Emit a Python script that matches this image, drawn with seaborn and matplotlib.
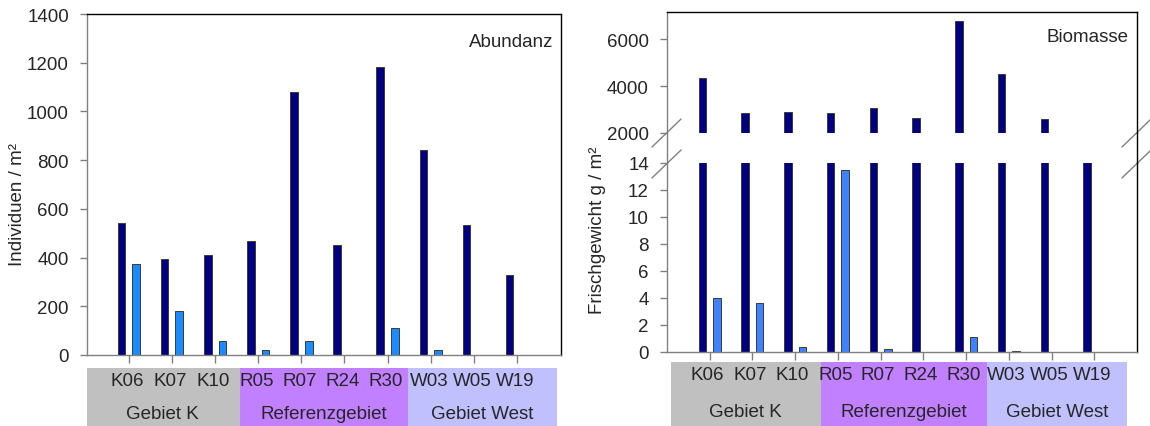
import matplotlib
matplotlib.use("Agg")
import matplotlib.pyplot as plt
from matplotlib.lines import Line2D
import seaborn as sns
import pandas as pd

# --- data -------------------------------------------------------------
stationen = ["K06", "K07", "K10", "R05", "R07", "R24", "R30", "W03", "W05", "W19"]
gebiete = ["Gebiet K", "Referenzgebiet", "Gebiet West"]

# Abundanz (Individuen / m²)
abundanz_gesamt = [542, 393, 411, 470, 1079, 452, 1182, 840, 535, 330]
abundanz_teil = [372, 181, 59, 19, 59, 0, 110, 19, 0, 0]

# Biomasse (Frischgewicht g / m²)
biomasse_gesamt = [4326, 2865, 2908, 2851, 3064, 2624, 6780, 4511, 2582, 1500]
biomasse_teil = [4.0, 3.6, 0.35, 13.45, 0.25, 0.0, 1.1, 0.1, 0.0, 0.0]

serien = ["gesamt", "teil"]

# --- style ------------------------------------------------------------
sns.set_style("white")
plt.rcParams["font.family"] = ["Liberation Sans", "DejaVu Sans"]

DUNKEL = "#000080"
HELL_A = "#1a8cff"
HELL_B = "#3f82ff"
GRAU = "#808080"
BOX_FARBEN = ["#c0c0c0", "#c080ff", "#c0c0ff"]
FS = 13.5


def long_frame(gesamt, teil):
    return pd.DataFrame({
        "Station": stationen * 2,
        "Serie": [serien[0]] * len(stationen) + [serien[1]] * len(stationen),
        "Wert": list(gesamt) + list(teil),
    })


def bars(ax, df, hell):
    sns.barplot(data=df, x="Station", y="Wert", hue="Serie", order=stationen,
                hue_order=serien, palette=[DUNKEL, hell], saturation=1,
                width=0.68, gap=0.48, edgecolor="#3a3a3a", linewidth=0.7,
                legend=False, ax=ax)
    ax.set_xlabel("")
    ax.set_ylabel("")


def frame(ax, top=True, bottom=True):
    for side in ["left", "bottom"]:
        ax.spines[side].set_color(GRAU)
    for side in ["top", "right"]:
        ax.spines[side].set_color("black")
    ax.spines["top"].set_visible(top)
    ax.spines["bottom"].set_visible(bottom)
    for s in ax.spines.values():
        s.set_linewidth(1.0)
    ax.tick_params(axis="y", direction="out", length=5, width=1, color=GRAU,
                   pad=8, labelsize=FS, left=True)
    if bottom:
        ax.tick_params(axis="x", direction="out", length=6, width=1, color=GRAU,
                       bottom=True, labelbottom=False)
    else:
        ax.tick_params(axis="x", bottom=False, labelbottom=False)


def table(fig, rect, edges, label_y, group_y):
    tax = fig.add_axes(rect)
    tax.set_xlim(-1.0, 10.0)
    tax.set_ylim(0, 1)
    tax.axis("off")
    for i, name in enumerate(gebiete):
        tax.axvspan(edges[i], edges[i + 1], color=BOX_FARBEN[i], lw=0)
        tax.text((edges[i] + edges[i + 1]) / 2, group_y, name,
                 ha="center", va="center", fontsize=FS)
    for i, st in enumerate(stationen):
        tax.text(i - 0.06, label_y, st, ha="center", va="center", fontsize=FS)
    return tax


fig = plt.figure(figsize=(11.5, 4.27), dpi=100)

# --- Abundanz ---------------------------------------------------------
ax1 = fig.add_axes([87 / 1150, 71 / 427, 474 / 1150, 341 / 427])
bars(ax1, long_frame(abundanz_gesamt, abundanz_teil), HELL_A)
ax1.set_xlim(-0.97, 10.02)
ax1.set_ylim(0, 1400)
ax1.set_yticks(range(0, 1401, 200))
frame(ax1)
ax1.text(0.984, 0.92, "Abundanz", transform=ax1.transAxes, ha="right",
         va="center", fontsize=FS)
fig.text(18 / 1150, 1 - 205 / 427, "Individuen / m²", rotation=90,
         ha="center", va="center", fontsize=FS)
table(fig, [87 / 1150, 0, 474 / 1150, 58 / 427], [-1.07, 2.55, 6.45, 9.9],
      0.79, 0.22)

# --- Biomasse (gebrochene Achse) -------------------------------------
df_bio = long_frame(biomasse_gesamt, biomasse_teil)
x0, w = 667 / 1150, 470 / 1150
ax_lo = fig.add_axes([x0, 74 / 427, w, 189 / 427])
ax_hi = fig.add_axes([x0, 293 / 427, w, 121 / 427])

bars(ax_lo, df_bio, HELL_B)
ax_lo.set_xlim(-1.0, 10.0)
ax_lo.set_ylim(0, 14)
ax_lo.set_yticks(range(0, 15, 2))
frame(ax_lo, top=False)

bars(ax_hi, df_bio, HELL_B)
ax_hi.set_xlim(-1.0, 10.0)
ax_hi.set_ylim(2000, 7150)
ax_hi.set_yticks([2000, 4000, 6000])
frame(ax_hi, bottom=False)
ax_hi.text(0.981, 0.80, "Biomasse", transform=ax_hi.transAxes, ha="right",
           va="center", fontsize=FS)

# spine segments across the gap between the two panels
for xf, col in [(x0, GRAU), (x0 + w, "black")]:
    fig.add_artist(Line2D([xf, xf], [263 / 427, 293 / 427],
                          transform=fig.transFigure, color=col, lw=1.0))

# break marks
brk = dict(color=GRAU, lw=1.0, clip_on=False)
for xa in (0.0, 1.0):
    ax_hi.plot([xa - 0.032, xa + 0.030], [-0.116, 0.116],
               transform=ax_hi.transAxes, **brk)
    ax_lo.plot([xa - 0.032, xa + 0.030], [0.921, 1.069],
               transform=ax_lo.transAxes, **brk)

fig.text(597 / 1150, 1 - 230 / 427, "Frischgewicht g / m²", rotation=90,
         ha="center", va="center", fontsize=FS)
table(fig, [x0, 0, w, 64 / 427], [-0.91, 2.6, 6.5, 9.77], 0.81, 0.23)

fig.savefig("out.png", dpi=100)
